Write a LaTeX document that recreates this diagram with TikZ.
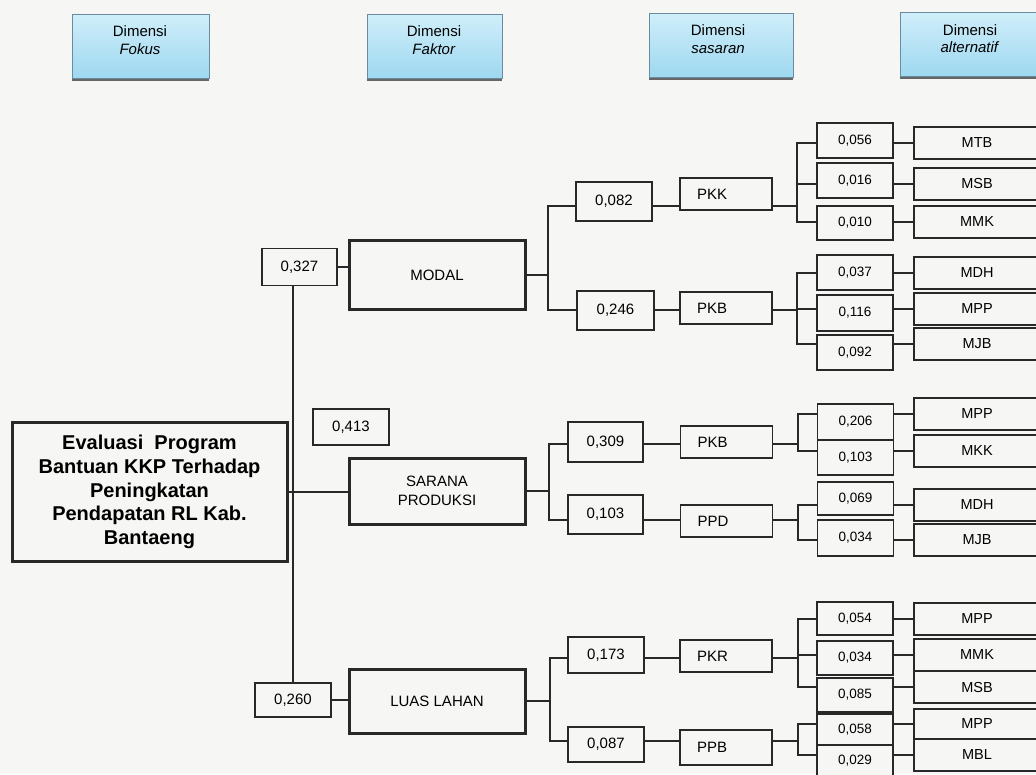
\documentclass[tikz,border=0pt]{standalone}
\usepackage{fontspec}
\setmainfont{Liberation Sans}
\usetikzlibrary{shadows}
\definecolor{bg}{RGB}{246,246,244}
\definecolor{ink}{RGB}{40,40,40}
\definecolor{hdrtop}{RGB}{208,238,250}
\definecolor{hdrbot}{RGB}{158,216,240}
\definecolor{hdrline}{RGB}{105,140,160}
\newcommand\myfs[2]{\fontsize{#1}{#2}\selectfont}
\begin{document}
\begin{tikzpicture}[x=1pt,y=-1pt,
  conn/.style={draw=ink,line width=2pt,line cap=rect},
  hdrbox/.style={draw=hdrline,line width=0.8pt,top color=hdrtop,bottom color=hdrbot,minimum height=64pt,inner sep=0pt,drop shadow={shadow xshift=0pt,shadow yshift=-2.5pt,fill=black!60,opacity=1}},
  hdrtext/.style={align=center,font=\myfs{15}{17.5},inner sep=0pt},
  mainbox/.style={draw=ink,line width=3pt,fill=bg,minimum width=275pt,minimum height=139pt,align=center,font=\bfseries\myfs{20}{23.75}},
  wA/.style={draw=ink,line width=1.8pt,fill=bg,inner sep=0pt,font=\myfs{15}{17}},
  wB/.style={draw=ink,line width=1.8pt,fill=bg,inner sep=0pt,minimum width=76pt,font=\myfs{13.5}{16}},
  fac/.style={draw=ink,line width=3pt,fill=bg,minimum width=176pt,inner sep=0pt,align=center,font=\myfs{15}{19}},
  sas/.style={draw=ink,line width=1.8pt,fill=bg,inner xsep=17pt,inner ysep=0pt,text width=58pt,align=left,minimum height=32pt,font=\myfs{15}{18}},
  alt/.style={draw=ink,line width=2pt,fill=bg,minimum width=126pt,minimum height=32pt,inner sep=0pt,font=\myfs{14.5}{17}}
]
\fill[bg] (0,0) rectangle (1036,774);
\useasboundingbox (0,0) rectangle (1036,774);

% headers
\node[hdrbox,minimum width=137pt] (hF) at (140.5,46) {};
\node[hdrtext] (hFt) at (140,40) {Dimensi\\\textit{Fokus}};
\node[hdrbox,minimum width=135pt] (hK) at (434.5,46) {};
\node[hdrtext] (hKt) at (434,40) {Dimensi\\\textit{Faktor}};
\node[hdrbox,minimum width=144pt] (hS) at (721,45) {};
\node[hdrtext] (hSt) at (718,39) {Dimensi\\\textit{sasaran}};
\node[hdrbox,minimum width=140pt] (hA) at (970,44.5) {};
\node[hdrtext] (hAt) at (970,38.5) {Dimensi\\\textit{alternatif}};

% focus
\node[mainbox] (focus) at (149.5,492) {Evaluasi\ \ Program\\Bantuan KKP Terhadap\\Peningkatan\\Pendapatan RL Kab.\\Bantaeng};

% level 1 weights
\node[wA,minimum width=75pt,minimum height=37pt] (w1) at (299.5,267) {0,327};
\node[wA,minimum width=76pt,minimum height=36pt] (w2) at (351,427) {0,413};
\node[wA,minimum width=76pt,minimum height=34pt] (w3) at (293,700) {0,260};

% factors
\node[fac,minimum height=69pt] (modal) at (437,275) {MODAL};
\node[fac,minimum height=66pt] (sarana) at (437,491) {SARANA\\PRODUKSI};
\node[fac,minimum height=64pt] (luas) at (437,701) {LUAS LAHAN};

% level 2 weights and targets
\node[wA,minimum width=76pt,minimum height=39pt] (a1) at (614,201.5) {0,082};
\node[wA,minimum width=77pt,minimum height=39pt] (a2) at (615.5,310.5) {0,246};
\node[sas] (s1) at (726,194) {PKK};
\node[sas] (s2) at (726,308) {PKB};
\node[wA,minimum width=75pt,minimum height=40pt] (b1) at (605.5,442) {0,309};
\node[wA,minimum width=75pt,minimum height=39pt] (b2) at (605.5,514.5) {0,103};
\node[sas] (s3) at (726.5,442) {PKB};
\node[sas] (s4) at (726.5,521) {PPD};
\node[wA,minimum width=76pt,minimum height=36pt] (c1) at (606,655) {0,173};
\node[wA,minimum width=76pt,minimum height=35pt] (c2) at (606,744.5) {0,087};
\node[sas] (s5) at (726,656) {PKR};
\node[sas,minimum height=35pt] (s6) at (726,747.5) {PPB};

% level 3 weights
\node[wB,minimum height=35pt] (x1) at (855,140.5) {0,056};
\node[wB,minimum height=35pt] (x2) at (855,180.5) {0,016};
\node[wB,minimum height=34pt] (x3) at (855,223) {0,010};
\node[wB,minimum height=35pt] (x4) at (855,272.5) {0,037};
\node[wB,minimum height=36pt] (x5) at (855,313) {0,116};
\node[wB,minimum height=35pt] (x6) at (855,352.5) {0,092};
\node[wB,minimum height=36pt] (y1) at (855.5,422) {0,206};
\node[wB,minimum height=35pt] (y2) at (855.5,457.5) {0,103};
\node[wB,minimum height=33pt] (y3) at (855.5,498.5) {0,069};
\node[wB,minimum height=36pt] (y4) at (855.5,538) {0,034};
\node[wB,minimum height=33pt] (z1) at (855,618.5) {0,054};
\node[wB,minimum height=34pt] (z2) at (855,658) {0,034};
\node[wB,minimum height=34pt] (z3) at (855,695) {0,085};
\node[wB,minimum height=31pt] (z4) at (855,729.5) {0,058};
\node[wB,minimum height=32pt] (z5) at (855,761) {0,029};

% alternatives
\node[alt] (t1) at (977,143) {MTB};
\node[alt] (t2) at (977,184) {MSB};
\node[alt] (t3) at (977,222) {MMK};
\node[alt] (t4) at (977,273) {MDH};
\node[alt] (t5) at (977,309) {MPP};
\node[alt] (t6) at (977,344) {MJB};
\node[alt] (u1) at (977,414) {MPP};
\node[alt] (u2) at (977,451) {MKK};
\node[alt] (u3) at (977,505) {MDH};
\node[alt] (u4) at (977,540) {MJB};
\node[alt] (v1) at (977,619) {MPP};
\node[alt] (v2) at (977,655) {MMK};
\node[alt] (v3) at (977,687) {MSB};
\node[alt,minimum height=31pt] (v4) at (977,724) {MPP};
\node[alt] (v5) at (977,755) {MBL};

% level 1 connectors
\draw[conn] (w1.south -| w3.north) -- (w3.north);
\draw[conn] (w1.east) -- (w1.east -| modal.west);
\draw[conn] (focus.east) -- (focus.east -| sarana.west);
\draw[conn] (w3.east) -- (w3.east -| luas.west);

% junction coordinates
\coordinate (jm1) at (548,206);
\coordinate (jm2) at (548,310);
\coordinate (js1) at (549,444);
\coordinate (js2) at (549,520);
\coordinate (jl1) at (550,658);
\coordinate (jl2) at (550,741);
\coordinate (k1) at (797,206);
\coordinate (k2) at (797,310);
\coordinate (k3) at (798,444);
\coordinate (k4) at (798,520);
\coordinate (k5) at (798,658);
\coordinate (k6) at (798,741);

% level 2 connectors
\foreach \f/\ja/\jb/\wa/\wb/\sa/\sb in {modal/jm1/jm2/a1/a2/s1/s2, sarana/js1/js2/b1/b2/s3/s4, luas/jl1/jl2/c1/c2/s5/s6} {
  \draw[conn] (\f.east) -- (\f.east -| \ja);
  \draw[conn] (\ja) -- (\jb);
  \draw[conn] (\ja) -- (\ja -| \wa.west);
  \draw[conn] (\wa.east |- \ja) -- (\ja -| \sa.west);
  \draw[conn] (\jb) -- (\jb -| \wb.west);
  \draw[conn] (\wb.east |- \jb) -- (\jb -| \sb.west);
}

% level 3 connectors
\foreach \s/\k in {s1/k1, s2/k2, s3/k3, s4/k4, s5/k5, s6/k6} {
  \draw[conn] (\s.east |- \k) -- (\k);
}
\draw[conn] (k1 |- t1.west) -- (k1 |- t3.west);
\draw[conn] (k2 |- t4.west) -- (k2 |- t6.west);
\draw[conn] (k3 |- u1.west) -- (k3 |- u2.west);
\draw[conn] (k4 |- u3.west) -- (k4 |- u4.west);
\draw[conn] (k5 |- v1.west) -- (k5 |- v3.west);
\draw[conn] (k6 |- v4.west) -- (k6 |- v5.west);
\foreach \k/\w/\t in {k1/x1/t1, k1/x2/t2, k1/x3/t3, k2/x4/t4, k2/x5/t5, k2/x6/t6,
  k3/y1/u1, k3/y2/u2, k4/y3/u3, k4/y4/u4,
  k5/z1/v1, k5/z2/v2, k5/z3/v3, k6/z4/v4, k6/z5/v5} {
  \draw[conn] (\k |- \t.west) -- (\w.west |- \t.west);
  \draw[conn] (\w.east |- \t.west) -- (\t.west);
}
\end{tikzpicture}
\end{document}
